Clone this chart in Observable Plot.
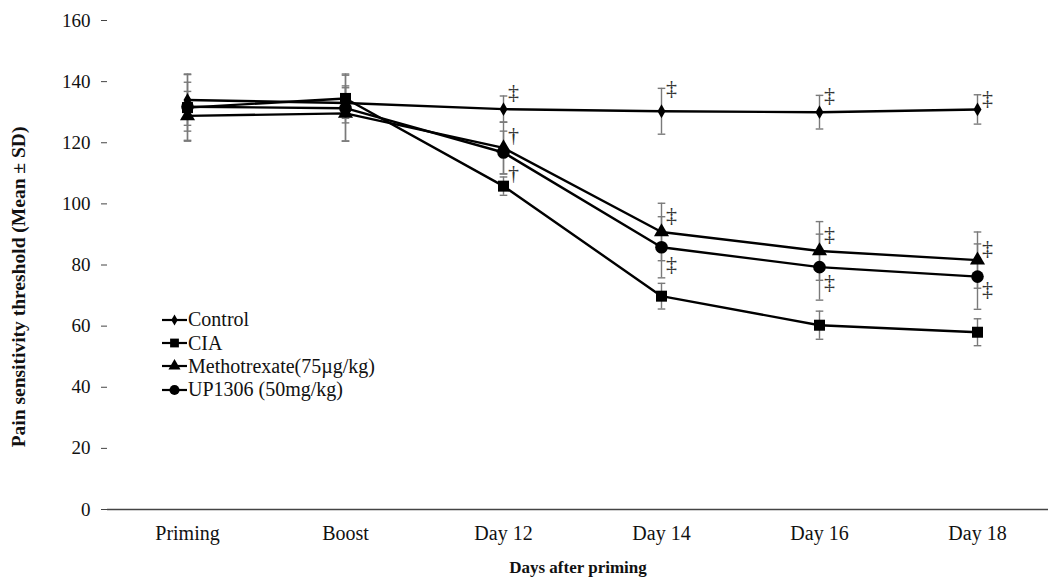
<!DOCTYPE html>
<html>
<head>
<meta charset="utf-8">
<script src="https://cdn.jsdelivr.net/npm/d3@7"></script>
<script src="https://cdn.jsdelivr.net/npm/@observablehq/plot@0.6"></script>
<style>
  body { margin: 0; background: #fff; }
  #wrap { position: relative; width: 1048px; height: 585px; font-family: "Liberation Serif", "Times New Roman", serif; }
  #legend { position: absolute; left: 161px; top: 308px; font-size: 20px; color: #111; }
  #legend div { display: flex; align-items: center; height: 23.4px; }
</style>
</head>
<body>
<div id="wrap"><div id="legend"></div></div>
<script>
// Time points and treatment groups
const days = ["Priming", "Boost", "Day 12", "Day 14", "Day 16", "Day 18"];
const groups = ["Control", "CIA", "Methotrexate(75µg/kg)", "UP1306 (50mg/kg)"];

// Pain sensitivity threshold, mean and SD per group
const controlMean = [134.0, 133.0, 131.0, 130.3, 130.0, 130.9];
const controlSD   = [8.3, 5.0, 4.3, 7.5, 5.5, 4.8];
const ciaMean     = [131.5, 134.5, 105.8, 69.8, 60.3, 58.0];
const ciaSD       = [11.0, 8.0, 3.0, 4.2, 4.6, 4.4];
const mtxMean     = [128.8, 129.6, 118.3, 90.8, 84.6, 81.6];
const mtxSD       = [8.0, 9.0, 8.5, 9.4, 9.6, 9.2];
const upMean      = [131.8, 131.3, 116.8, 85.8, 79.3, 76.2];
const upSD        = [8.0, 10.8, 7.0, 10.0, 10.8, 10.7];

// Significance marks: time point, glyph, and the value they sit beside
const sigDays    = ["Day 12", "Day 12", "Day 12", "Day 14", "Day 14", "Day 14", "Day 16", "Day 16", "Day 16", "Day 18", "Day 18", "Day 18"];
const sigSymbols = ["‡", "†", "†", "‡", "‡", "‡", "‡", "‡", "‡", "‡", "‡", "‡"];
const sigAt      = [136.5, 122.4, 110.0, 137.8, 96.5, 80.5, 135.8, 90.3, 74.3, 134.5, 85.7, 72.3];

const yTicks = [0, 20, 40, 60, 80, 100, 120, 140, 160];

const means = [controlMean, ciaMean, mtxMean, upMean];
const sds = [controlSD, ciaSD, mtxSD, upSD];
const rows = groups.flatMap((g, gi) => days.map((d, di) => ({day: d, group: g, mean: means[gi][di], sd: sds[gi][di]})));
const sig = sigDays.map((d, i) => ({day: d, sym: sigSymbols[i], at: sigAt[i]}));

// Marker look per group
const symbolOf = {"Control": "diamond", "CIA": "square", "Methotrexate(75µg/kg)": "triangle", "UP1306 (50mg/kg)": "circle"};
const radiusOf = {"Control": 4.2, "CIA": 6.2, "Methotrexate(75µg/kg)": 5.6, "UP1306 (50mg/kg)": 6.3};

// Horizontal cap for the error bars
const capSymbol = {draw(ctx) { ctx.moveTo(-3.8, 0); ctx.lineTo(3.8, 0); }};

const font = `"Liberation Serif", "Times New Roman", serif`;

const marks = [
  Plot.ruleX(rows, {x: "day", y1: d => d.mean - d.sd, y2: d => d.mean + d.sd, stroke: "#7a7a7a", strokeWidth: 1.4}),
  Plot.dot(rows, {x: "day", y: d => d.mean + d.sd, symbol: capSymbol, stroke: "#7a7a7a", strokeWidth: 1.4, fill: "none"}),
  Plot.dot(rows, {x: "day", y: d => d.mean - d.sd, symbol: capSymbol, stroke: "#7a7a7a", strokeWidth: 1.4, fill: "none"}),
  Plot.line(rows, {x: "day", y: "mean", z: "group", stroke: "#000", strokeWidth: 2.4}),
  ...groups.map(g => Plot.dot(rows.filter(r => r.group === g), {x: "day", y: "mean", symbol: () => symbolOf[g], r: radiusOf[g], fill: "#000", stroke: "none"})),
  Plot.text(sig, {x: "day", y: "at", text: "sym", dx: 10, fontSize: 22, fill: "#333", fontFamily: font}),
  Plot.axisY({ticks: yTicks, tickSize: 6, tickPadding: 11, fontSize: 19, fontFamily: font, color: "#111", label: null, stroke: "#444"}),
  Plot.ruleX([null], {frameAnchor: "left", stroke: "#444", strokeWidth: 1.3}),
  Plot.ruleY([0], {stroke: "#444", strokeWidth: 1.6}),
  Plot.axisX({tickSize: 0, tickPadding: 16, fontSize: 20, fontFamily: font, color: "#111", label: null}),
  Plot.text(["Days after priming"], {frameAnchor: "bottom", dy: 63, fontSize: 17, fontWeight: "bold", fontFamily: font, fill: "#111"}),
  Plot.text(["Pain sensitivity threshold (Mean ± SD)"], {frameAnchor: "left", textAnchor: "middle", rotate: -90, dx: -89, dy: 22, fontSize: 19.5, fontWeight: "bold", fontFamily: font, fill: "#111"})
];

const chart = Plot.plot({
  width: 1048,
  height: 585,
  marginLeft: 107,
  marginRight: 0,
  marginTop: 20,
  marginBottom: 76,
  style: {fontFamily: font, background: "#fff", overflow: "visible"},
  x: {type: "point", domain: days, range: [185, 979], padding: 0},
  y: {domain: [0, 160], range: [509, 20]},
  marks
});
document.getElementById("wrap").prepend(chart);

// Legend: line-and-marker sample beside each group name
const legend = d3.select("#legend");
const typeOf = {diamond: d3.symbolDiamond, square: d3.symbolSquare, triangle: d3.symbolTriangle, circle: d3.symbolCircle};
groups.forEach(g => {
  const row = legend.append("div");
  const svg = row.append("svg").attr("width", 27).attr("height", 14);
  svg.append("line").attr("x1", 1).attr("x2", 26).attr("y1", 7).attr("y2", 7).attr("stroke", "#000").attr("stroke-width", 2.2);
  const r = radiusOf[g] * 0.8;
  svg.append("path").attr("transform", "translate(13.5,7)").attr("fill", "#000")
    .attr("d", d3.symbol(typeOf[symbolOf[g]], Math.PI * r * r)());
  row.append("span").text(g);
});
</script>
</body>
</html>
